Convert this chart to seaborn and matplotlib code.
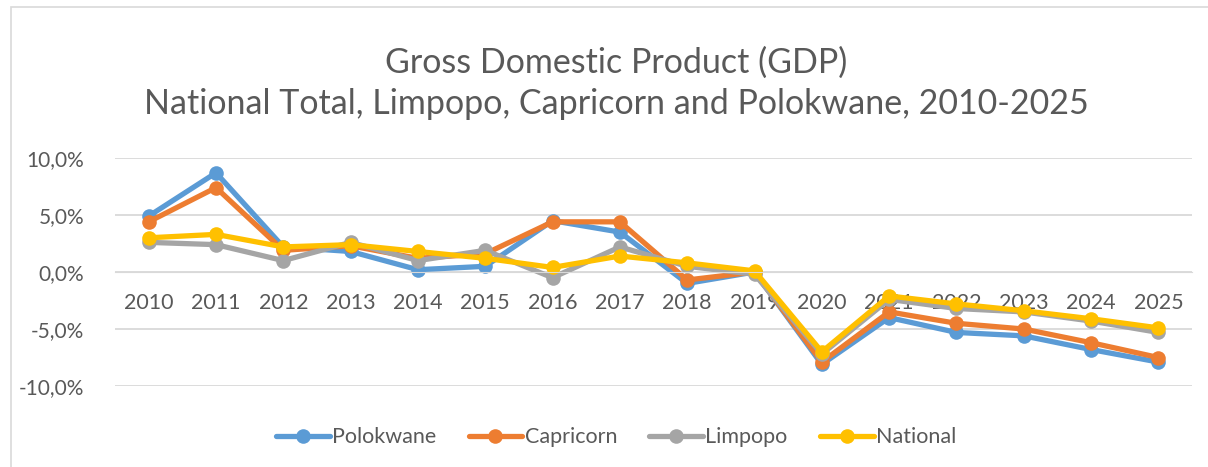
import numpy as np
import pandas as pd
import matplotlib
matplotlib.use("Agg")
import matplotlib.pyplot as plt
from matplotlib.patches import Rectangle
from matplotlib.ticker import FuncFormatter
import seaborn as sns

years = list(range(2010, 2026))
polokwane = [4.9, 8.7, 2.2, 1.8, 0.2, 0.5, 4.5, 3.5, -1.0, 0.0, -8.1, -4.0, -5.3, -5.6, -6.8, -7.9]
capricorn = [4.4, 7.4, 1.9, 2.3, 1.2, 1.6, 4.4, 4.4, -0.7, 0.0, -7.9, -3.5, -4.5, -5.0, -6.2, -7.5]
limpopo = [2.6, 2.4, 1.0, 2.6, 1.0, 1.9, -0.5, 2.2, 0.5, -0.2, -7.2, -2.4, -3.2, -3.5, -4.3, -5.3]
national = [3.0, 3.3, 2.2, 2.4, 1.8, 1.2, 0.4, 1.4, 0.8, 0.1, -7.0, -2.1, -2.8, -3.4, -4.1, -4.9]

series = ["Polokwane", "Capricorn", "Limpopo", "National"]
colors = ["#5B9BD5", "#ED7D31", "#A5A5A5", "#FFC000"]

df = pd.DataFrame({
    "Year": years * 4,
    "Growth": polokwane + capricorn + limpopo + national,
    "Region": [s for s in series for _ in years],
})

sns.set_style("white")
plt.rcParams['font.family'] = ['Lato', 'DejaVu Sans']
txt = "#595959"

fig = plt.figure(figsize=(12.08, 4.67), dpi=100)
ax = fig.add_axes([0.0952, 0.1734, 0.8916, 0.4883])

sns.lineplot(data=df, x="Year", y="Growth", hue="Region", hue_order=series,
             palette=colors, marker="o", markersize=10.5, markeredgewidth=0,
             linewidth=3.8, ax=ax, legend=True)

ax.set_xlim(2009.5, 2025.5)
ax.set_ylim(-10, 10)
ax.set_yticks([-10, -5, 0, 5, 10])
ax.yaxis.set_major_formatter(FuncFormatter(lambda v, p: f"{v:.1f}%".replace(".", ",")))
ax.set_xticks(years)
ax.set_xticklabels([str(y) for y in years])
ax.grid(axis="y", color="#D9D9D9", linewidth=1.3)
ax.set_axisbelow(True)
for s in ["top", "right", "left"]:
    ax.spines[s].set_visible(False)
ax.spines["bottom"].set_position(("data", 0))
ax.spines["bottom"].set_color("#D9D9D9")
ax.tick_params(axis="x", length=0, labelsize=15.5, colors=txt, pad=15)
ax.tick_params(axis="y", length=0, labelsize=15, colors=txt, pad=22)
ax.set_xlabel("")
ax.set_ylabel("")

handles, labels = ax.get_legend_handles_labels()
ax.get_legend().remove()
fig.legend(handles, labels, loc="center", bbox_to_anchor=(0.51, 0.064), ncol=4,
           frameon=False, fontsize=15.5, labelcolor=txt, handlelength=2.5,
           columnspacing=1.5, handletextpad=0.1)

fig.text(0.51, 0.865, "Gross Domestic Product (GDP)", ha="center", va="center",
         fontsize=24.5, color=txt)
fig.text(0.51, 0.778, "National Total, Limpopo, Capricorn and Polokwane, 2010-2025",
         ha="center", va="center", fontsize=24.5, color=txt)

fig.patches.append(Rectangle((0.009, -0.01), 1.2, 0.995, transform=fig.transFigure,
                             fill=False, edgecolor="#D9D9D9", linewidth=1.2))

fig.savefig("out.png", dpi=100)
